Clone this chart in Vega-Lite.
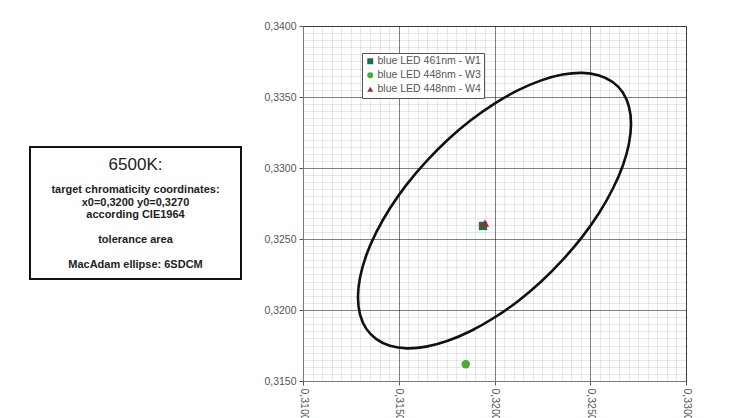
{
  "$schema": "https://vega.github.io/schema/vega-lite/v6.json",
  "background": "white",
  "padding": {"left": 29, "top": 20, "right": 5, "bottom": 0},
  "autosize": {"type": "pad"},
  "config": {
    "font": "Liberation Sans",
    "axis": {"labelFont": "Liberation Sans", "labelFontSize": 10.5, "labelColor": "#555"},
    "legend": {"labelFont": "Liberation Sans"}
  },
  "spacing": 21,
  "hconcat": [
    {
      "spacing": 0,
      "vconcat": [
        {
          "width": 211,
          "height": 120,
          "view": {"stroke": null},
          "data": {"values": []},
          "mark": {"type": "point", "opacity": 0}
        },
        {
          "width": 211,
          "height": 132,
          "view": {"stroke": "#111", "strokeWidth": 2},
          "data": {"values": [
            {"line": 0, "kind": "title", "text": "6500K:"},
            {"line": 2, "kind": "body", "text": "target chromaticity coordinates:"},
            {"line": 3, "kind": "body", "text": "x0=0,3200 y0=0,3270"},
            {"line": 4, "kind": "body", "text": "according CIE1964"},
            {"line": 6, "kind": "body", "text": "tolerance area"},
            {"line": 8, "kind": "body", "text": "MacAdam ellipse: 6SDCM"}
          ]},
          "encoding": {
            "y": {"field": "line", "type": "quantitative", "scale": {"domain": [-1.44, 9.12], "reverse": true, "nice": false, "zero": false}, "axis": null},
            "text": {"field": "text", "type": "nominal"}
          },
          "layer": [
            {
              "transform": [{"filter": "datum.kind === 'body'"}],
              "mark": {"type": "text", "fontSize": 11, "fontWeight": "bold", "color": "#222", "baseline": "middle", "align": "center"}
            },
            {
              "transform": [{"filter": "datum.kind === 'title'"}],
              "mark": {"type": "text", "fontSize": 17, "color": "#222", "baseline": "middle", "align": "center"}
            }
          ]
        }
      ]
    },
    {
      "width": 383,
      "height": 355,
      "view": {"stroke": "#7a7a7a"},
      "encoding": {
        "x": {
          "type": "quantitative",
          "scale": {"domain": [0.31, 0.33], "nice": false, "zero": false},
          "axis": {
            "title": null,
            "values": [0.31,0.3105,0.311,0.3115,0.312,0.3125,0.313,0.3135,0.314,0.3145,0.315,0.3155,0.316,0.3165,0.317,0.3175,0.318,0.3185,0.319,0.3195,0.32,0.3205,0.321,0.3215,0.322,0.3225,0.323,0.3235,0.324,0.3245,0.325,0.3255,0.326,0.3265,0.327,0.3275,0.328,0.3285,0.329,0.3295,0.33],
            "labelExpr": "abs(datum.value*200 - round(datum.value*200)) < 0.001 ? replace(format(datum.value, '.4f'), '.', ',') : ''",
            "labelOverlap": false,
            "labelBound": false,
            "labelFlush": false,
            "labelAngle": 90,
            "labelAlign": "left",
            "labelBaseline": "middle",
            "labelPadding": 3,
            "domainColor": "#777",
            "tickSize": 4,
            "tickColor": "#555",
            "tickOpacity": {"condition": {"test": "abs(datum.value*200 - round(datum.value*200)) < 0.001", "value": 1}, "value": 0},
            "grid": true,
            "gridColor": "#000",
            "gridOpacity": {"condition": {"test": "abs(datum.value*200 - round(datum.value*200)) < 0.001", "value": 0.5}, "value": 0.09},
            "gridWidth": 1
          }
        },
        "y": {
          "type": "quantitative",
          "scale": {"domain": [0.315, 0.34], "nice": false, "zero": false},
          "axis": {
            "title": null,
            "values": [0.315,0.3155,0.316,0.3165,0.317,0.3175,0.318,0.3185,0.319,0.3195,0.32,0.3205,0.321,0.3215,0.322,0.3225,0.323,0.3235,0.324,0.3245,0.325,0.3255,0.326,0.3265,0.327,0.3275,0.328,0.3285,0.329,0.3295,0.33,0.3305,0.331,0.3315,0.332,0.3325,0.333,0.3335,0.334,0.3345,0.335,0.3355,0.336,0.3365,0.337,0.3375,0.338,0.3385,0.339,0.3395,0.34],
            "labelExpr": "abs(datum.value*200 - round(datum.value*200)) < 0.001 ? replace(format(datum.value, '.4f'), '.', ',') : ''",
            "labelOverlap": false,
            "labelBound": false,
            "labelFlush": false,
            "labelPadding": 3,
            "domainColor": "#777",
            "tickSize": 4,
            "tickColor": "#555",
            "tickOpacity": {"condition": {"test": "abs(datum.value*200 - round(datum.value*200)) < 0.001", "value": 1}, "value": 0},
            "grid": true,
            "gridColor": "#000",
            "gridOpacity": {"condition": {"test": "abs(datum.value*200 - round(datum.value*200)) < 0.001", "value": 0.5}, "value": 0.09},
            "gridWidth": 1
          }
        }
      },
      "layer": [
        {
          "data": {"values": [
            {"i": 0, "x": 0.32713, "y": 0.33311},
            {"i": 1, "x": 0.32702, "y": 0.33432},
            {"i": 2, "x": 0.32670, "y": 0.33532},
            {"i": 3, "x": 0.32617, "y": 0.33606},
            {"i": 4, "x": 0.32546, "y": 0.33652},
            {"i": 5, "x": 0.32458, "y": 0.33670},
            {"i": 6, "x": 0.32356, "y": 0.33658},
            {"i": 7, "x": 0.32244, "y": 0.33617},
            {"i": 8, "x": 0.32124, "y": 0.33548},
            {"i": 9, "x": 0.32000, "y": 0.33454},
            {"i": 10, "x": 0.31876, "y": 0.33336},
            {"i": 11, "x": 0.31756, "y": 0.33199},
            {"i": 12, "x": 0.31644, "y": 0.33047},
            {"i": 13, "x": 0.31542, "y": 0.32885},
            {"i": 14, "x": 0.31454, "y": 0.32717},
            {"i": 15, "x": 0.31383, "y": 0.32548},
            {"i": 16, "x": 0.31330, "y": 0.32384},
            {"i": 17, "x": 0.31298, "y": 0.32230},
            {"i": 18, "x": 0.31287, "y": 0.32089},
            {"i": 19, "x": 0.31298, "y": 0.31968},
            {"i": 20, "x": 0.31330, "y": 0.31869},
            {"i": 21, "x": 0.31383, "y": 0.31795},
            {"i": 22, "x": 0.31454, "y": 0.31748},
            {"i": 23, "x": 0.31542, "y": 0.31730},
            {"i": 24, "x": 0.31644, "y": 0.31742},
            {"i": 25, "x": 0.31756, "y": 0.31783},
            {"i": 26, "x": 0.31876, "y": 0.31852},
            {"i": 27, "x": 0.32000, "y": 0.31947},
            {"i": 28, "x": 0.32124, "y": 0.32064},
            {"i": 29, "x": 0.32244, "y": 0.32201},
            {"i": 30, "x": 0.32356, "y": 0.32353},
            {"i": 31, "x": 0.32458, "y": 0.32515},
            {"i": 32, "x": 0.32546, "y": 0.32683},
            {"i": 33, "x": 0.32617, "y": 0.32852},
            {"i": 34, "x": 0.32670, "y": 0.33016},
            {"i": 35, "x": 0.32702, "y": 0.33171}
          ]},
          "mark": {"type": "line", "interpolate": "cardinal-closed", "color": "#111", "strokeWidth": 2.6},
          "encoding": {
            "x": {"field": "x", "type": "quantitative"},
            "y": {"field": "y", "type": "quantitative"},
            "order": {"field": "i", "type": "quantitative"}
          }
        },
        {
          "data": {"values": [
            {"series": "blue LED 461nm - W1", "x": 0.3194, "y": 0.32592},
            {"series": "blue LED 448nm - W3", "x": 0.3185, "y": 0.31618},
            {"series": "blue LED 448nm - W4", "x": 0.3195, "y": 0.32612}
          ]},
          "mark": {"type": "point", "filled": true, "opacity": 1, "size": 70},
          "encoding": {
            "x": {"field": "x", "type": "quantitative"},
            "y": {"field": "y", "type": "quantitative"},
            "color": {
              "field": "series", "type": "nominal",
              "scale": {"domain": ["blue LED 461nm - W1", "blue LED 448nm - W3", "blue LED 448nm - W4"], "range": ["#1f6b52", "#4caa30", "#a82828"]},
              "legend": {
                "title": null, "orient": "none", "legendX": 332, "legendY": 27,
                "strokeColor": "#555", "fillColor": "white", "padding": 3,
                "labelFontSize": 10.5, "labelColor": "#555", "symbolSize": 36,
                "rowPadding": 3, "labelOffset": 2
              }
            },
            "shape": {
              "field": "series", "type": "nominal",
              "scale": {"domain": ["blue LED 461nm - W1", "blue LED 448nm - W3", "blue LED 448nm - W4"], "range": ["square", "circle", "triangle-up"]},
              "legend": {
                "title": null, "orient": "none", "legendX": 332, "legendY": 27,
                "strokeColor": "#555", "fillColor": "white", "padding": 3,
                "labelFontSize": 10.5, "labelColor": "#555", "symbolSize": 36,
                "rowPadding": 3, "labelOffset": 2
              }
            }
          }
        }
      ]
    }
  ]
}
